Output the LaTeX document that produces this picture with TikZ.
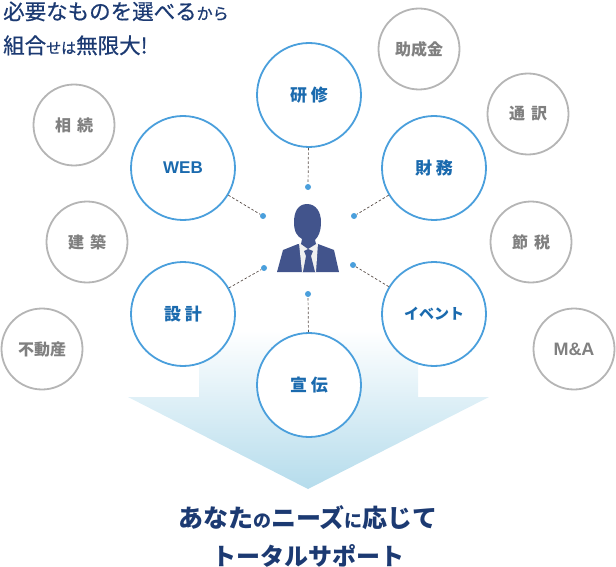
\documentclass[tikz,border=0pt]{standalone}
\usepackage{fontspec}
\usepackage{tikz}
\setmainfont{Noto Sans CJK JP}
\setsansfont{Liberation Sans}
\newfontfamily\midfont[FakeBold=0.6]{Noto Sans CJK JP}
\definecolor{navy}{HTML}{1C3A72}
\definecolor{blueline}{HTML}{4A9FDC}
\definecolor{bluetext}{HTML}{1A6AAE}
\definecolor{greyline}{HTML}{B5B5B5}
\definecolor{greytext}{HTML}{808080}
\definecolor{suit}{HTML}{42548C}
\definecolor{arrowblue}{HTML}{B5DCEC}
\definecolor{dashline}{HTML}{5A4F4A}
\newcommand{\fs}[1]{\fontsize{#1}{#1}\selectfont}

\begin{document}
\begin{tikzpicture}[x=1pt, y=-1pt,
  service/.style={draw=blueline, line width=1.8pt, fill=white, circle, inner sep=0pt, minimum size=104pt, text=bluetext, font=\bfseries\fs{17}},
  option/.style={draw=greyline, line width=1.8pt, fill=white, circle, inner sep=0pt, minimum size=81pt, text=greytext, font=\bfseries\fs{16}},
  spot/.style={fill=blueline, circle, inner sep=0pt, minimum size=6pt},
  link/.style={dashline, line width=.7pt, dash pattern=on 2.5pt off 2pt},
  title/.style={anchor=base, text=navy, inner sep=0pt, font=\bfseries},
  lead/.style={anchor=base west, text=navy, inner sep=0pt, font=\midfont}]
\useasboundingbox (0,0) rectangle (616,567);

\shade[top color=white, bottom color=arrowblue] (199,330) -- (418,330) -- (418,397) -- (489,397) -- (308,489) -- (128,397) -- (199,397) -- cycle;

\node[service] (kenshu) at (309,95) {研\hspace{4pt}修};
\node[service] (web) at (183,168) {\sffamily WEB};
\node[service] (zaimu) at (434,168) {財\hspace{4pt}務};
\node[service] (sekkei) at (183,314) {設\hspace{4pt}計};
\node[service] (event) at (434,314) {\fs{15}イベント};
\node[service] (senden) at (309,385) {\raisebox{-4pt}{宣\hspace{4pt}伝}};

\node[option] (sozoku) at (74,125) {相\hspace{6pt}続};
\node[option] (kenchiku) at (87,242) {建\hspace{6pt}築};
\node[option] (fudosan) at (42,349) {不動産};
\node[option] (josei) at (419,49) {助成金};
\node[option] (tsuyaku) at (528,114) {通\hspace{6pt}訳};
\node[option] (setsuzei) at (531,242) {節\hspace{6pt}税};
\node[option] (ma) at (574,349) {\sffamily\fs{18}M\&A};

\node[spot] (s1) at (308,187) {};
\node[spot] (s2) at (263,216) {};
\node[spot] (s3) at (354,216) {};
\node[spot] (s4) at (264,268) {};
\node[spot] (s5) at (353,265) {};
\node[spot] (s6) at (308,294) {};

\draw[link] (kenshu) -- (s1);
\draw[link] (web) -- (s2);
\draw[link] (zaimu) -- (s3);
\draw[link] (sekkei) -- (s4);
\draw[link] (event) -- (s5);
\draw[link] (senden) -- (s6);

% person
\fill[suit] (277,272) -- (283,250) -- (298,244) -- (318,244) -- (334,250) -- (339,272) -- cycle;
\fill[black!6] (299,243) -- (318,243) -- (316,272) -- (302,272) -- cycle;
\fill[suit] (304,251) -- (308,249) -- (313,251) -- (311,256) -- (315,272) -- (303,272) -- (306,256) -- cycle;
\fill[suit] (307,204) .. controls (316,204) and (321,212) .. (321,222) .. controls (321,232) and (318,237) .. (315,240) -- (316,244) -- (308,249) -- (301,244) -- (302,239) .. controls (297,236) and (294,232) .. (294,222) .. controls (294,212) and (298,204) .. (307,204) -- cycle;

\node[lead] (line1) at (3,19.5) {\fs{21.5}必要なものを選べる\fs{16}から};
\node[lead] (line2) at (3,53.5) {\fs{21.5}組合\fs{15}せは\fs{21.5}無限大!};
\node[title] (line3) at (308,527) {\fs{25}あなた\fs{18}の\fs{25}ニーズ\fs{18}に\fs{25}応じて};
\node[title] (line4) at (308,565) {\fs{24}トータルサポート};

\end{tikzpicture}
\end{document}
